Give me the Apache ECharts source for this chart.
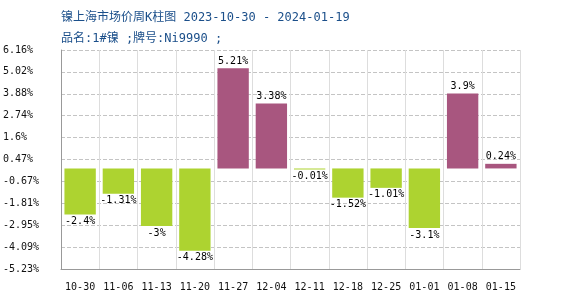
<!DOCTYPE html>
<html><head><meta charset="utf-8">
<script src="https://cdn.jsdelivr.net/npm/echarts@6/dist/echarts.min.js"></script>
<style>html,body{margin:0;padding:0;background:#fff}#c{width:570px;height:300px}</style>
</head><body><div id="c"></div>
<script>
const categories = ['10-30','11-06','11-13','11-20','11-27','12-04','12-11','12-18','12-25','01-01','01-08','01-15'];
const values = [-2.4, -1.31, -3, -4.28, 5.21, 3.38, -0.01, -1.52, -1.01, -3.1, 3.9, 0.24];
const tickLabels = ['-5.23%','-4.09%','-2.95%','-1.81%','-0.67%','0.47%','1.6%','2.74%','3.88%','5.02%','6.16%'];
const yMin = -5.23, yMax = 6.16;
const titleText = '镍上海市场价周K柱图 2023-10-30 - 2024-01-19';
const subText = '品名:1#镍 ;牌号:Ni9990 ;';
const upColor = '#A8567F', downColor = '#ADD330';
const mono = '"DejaVu Sans Mono","Noto Sans CJK SC",monospace';

const chart = echarts.init(document.getElementById('c'), null, {renderer:'canvas'});
chart.setOption({
  animation:false,
  backgroundColor:'#fff',
  title:[
    {text:titleText, left:56, top:7, textStyle:{fontFamily:mono, fontSize:12, fontWeight:'normal', color:'#1B4F8A'}},
    {text:subText, left:56, top:28, textStyle:{fontFamily:mono, fontSize:12, fontWeight:'normal', color:'#1B4F8A'}}
  ],
  grid:{left:61, right:50, top:50, bottom:31},
  xAxis:[{
    type:'category', data:categories,
    axisLine:{lineStyle:{color:'#999'}},
    axisTick:{show:false},
    axisLabel:{fontFamily:mono, fontSize:10, color:'#111', margin:13, interval:0},
    splitLine:{show:true, interval:0, lineStyle:{type:'solid', width:1, color:'#dddddd'}}
  }],
  yAxis:[
    {type:'value', min:0, max:10, interval:1, position:'left',
     axisLine:{show:true, lineStyle:{color:'#999'}},
     axisTick:{show:false},
     axisLabel:{fontFamily:mono, fontSize:10, color:'#111', align:'left', margin:58,
       formatter:v=>tickLabels[Math.round(v)]},
     splitLine:{show:true, lineStyle:{type:'dashed', color:'#c4c4c4'}}},
    {type:'value', min:yMin, max:yMax, show:false, splitLine:{show:false}}
  ],
  series:[{
    type:'bar', xAxisIndex:0, yAxisIndex:1, barCategoryGap:'18%', barMinHeight:1,
    data:values.map(v=>({value:v, itemStyle:{color:v>=0?upColor:downColor},
      label:{position:v>=0?'top':'bottom'}})),
    label:{show:true, distance:2, fontFamily:mono, fontSize:10, color:'#000', formatter:p=>p.value+'%'}
  }]
});
</script></body></html>
